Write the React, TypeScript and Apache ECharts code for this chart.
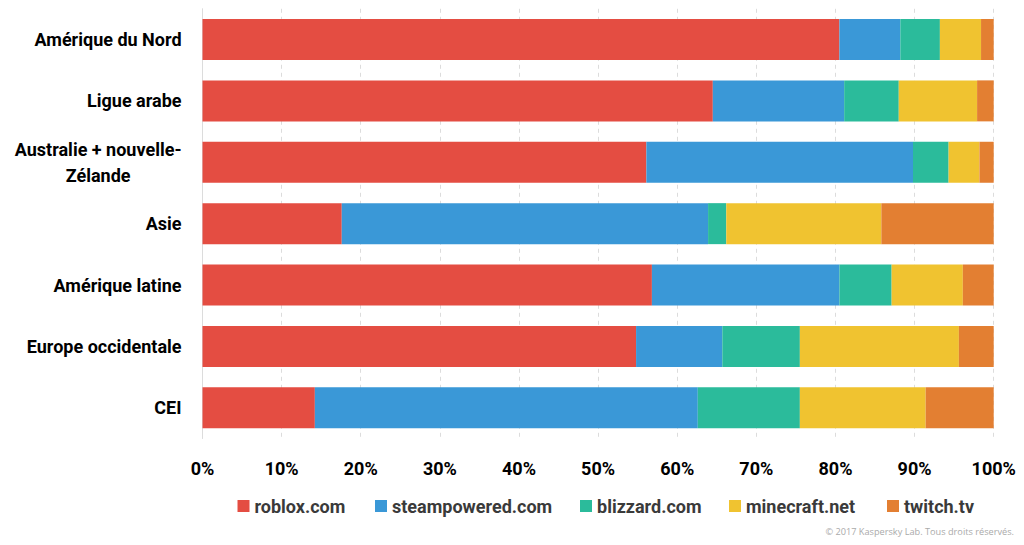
import React, { useEffect, useRef } from "react";
import * as echarts from "echarts";

const categories = [
  "Amérique du Nord",
  "Ligue arabe",
  "Australie + nouvelle-\nZélande",
  "Asie",
  "Amérique latine",
  "Europe occidentale",
  "CEI",
];
const seriesNames = ["roblox.com", "steampowered.com", "blizzard.com", "minecraft.net", "twitch.tv"];
const roblox = [80.5, 64.5, 56.1, 17.6, 56.8, 54.8, 14.2];
const steam = [7.7, 16.6, 33.7, 46.3, 23.7, 10.9, 48.4];
const blizzard = [5.0, 6.9, 4.5, 2.3, 6.6, 9.8, 12.9];
const minecraft = [5.2, 9.9, 3.9, 19.6, 9.0, 20.1, 15.9];
const twitch = [1.6, 2.1, 1.8, 14.2, 3.9, 4.4, 8.6];
const colors = ["#E44D42", "#3A98D7", "#2BBB9B", "#F0C330", "#E37F32"];
const xTicks = [0, 10, 20, 30, 40, 50, 60, 70, 80, 90, 100];
const legendLefts = [232.5, 370, 575, 724, 882];

const FONT = 'Roboto, "Liberation Sans", sans-serif';

export default function App() {
  const ref = useRef<HTMLDivElement>(null);
  useEffect(() => {
    if (!ref.current) return;
    const chart = echarts.init(ref.current, undefined, { renderer: "svg" });
    const values = [roblox, steam, blizzard, minecraft, twitch];
    chart.setOption({
      animation: false,
      backgroundColor: "#ffffff",
      grid: {
        left: 202.5,
        right: 30.3,
        top: 8.8,
        bottom: 106.5,
        containLabel: false,
        outerBoundsMode: "none",
      },
      legend: seriesNames.map((name, i) => ({
        data: [name],
        left: legendLefts[i],
        top: 492,
        icon: "rect",
        itemWidth: 12,
        itemHeight: 12,
        textStyle: { fontFamily: FONT, fontWeight: "bold", fontSize: 18, color: "#3a3a3a" },
      })),
      xAxis: {
        type: "value",
        min: xTicks[0],
        max: xTicks[xTicks.length - 1],
        interval: 10,
        axisLine: { show: false },
        axisTick: { show: false },
        axisLabel: {
          formatter: "{value}%",
          fontFamily: FONT,
          fontWeight: "bold",
          fontSize: 18,
          color: "#000",
          margin: 21,
        },
        splitLine: { show: true, lineStyle: { color: "#dcdcdc", type: [4, 4], width: 1 } },
      },
      yAxis: {
        type: "category",
        inverse: true,
        data: categories,
        axisLine: { show: true, lineStyle: { color: "#dcdcdc", width: 1 } },
        axisTick: { show: false },
        axisLabel: {
          margin: 21,
          formatter: (v: string) =>
            v
              .split("\n")
              .map((l) => `{c|${l}}`)
              .join("\n"),
          rich: {
            c: {
              align: "center",
              fontFamily: FONT,
              fontWeight: "bold",
              fontSize: 18,
              color: "#000",
              lineHeight: 26,
            },
          },
        },
      },
      graphic: [
        {
          type: "text",
          right: 10,
          top: 527,
          style: {
            text: "© 2017 Kaspersky Lab. Tous droits réservés.",
            fontFamily: '"Open Sans", sans-serif',
            fontSize: 9.2,
            fill: "#aaaaaa",
          },
        },
      ],
      series: seriesNames.map((name, i) => ({
        name,
        type: "bar",
        stack: "total",
        barWidth: 41,
        itemStyle: { color: colors[i] },
        data: values[i],
      })),
    });
    return () => chart.dispose();
  }, []);
  return (
    <div
      ref={ref}
      style={{ position: "fixed", left: 0, top: 0, width: 1024, height: 545 }}
    />
  );
}
